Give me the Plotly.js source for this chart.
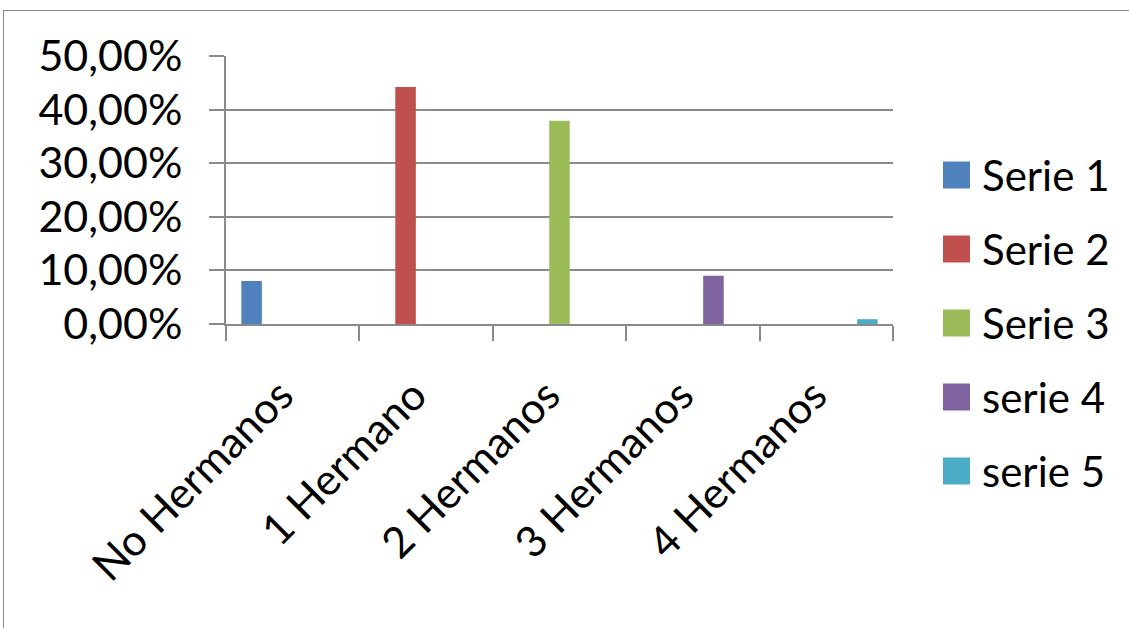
<!DOCTYPE html>
<html>
<head>
<meta charset="utf-8">
<script src="https://cdn.plot.ly/plotly-3.0.1.min.js"></script>
<style>
  html, body { margin: 0; padding: 0; background: #ffffff; overflow: hidden; }
  #frame { position: absolute; left: 3px; top: 10px; width: 1200px; height: 700px;
           border-left: 1.5px solid #8a8a8a; border-top: 1.5px solid #8a8a8a; pointer-events: none; z-index: 5; }
  #chart { position: absolute; left: 0; top: 0; width: 1129px; height: 628px; }
</style>
</head>
<body>
<div id="chart"></div>
<div id="frame"></div>
<script>
// ---- data ----
const categories = ["No Hermanos", "1 Hermano", "2 Hermanos", "3 Hermanos", "4 Hermanos"];
const seriesNames = ["Serie 1", "Serie 2", "Serie 3", "serie 4", "serie 5"];
const serie1 = [0.080, null, null, null, null];
const serie2 = [null, 0.442, null, null, null];
const serie3 = [null, null, 0.379, null, null];
const serie4 = [null, null, null, 0.090, null];
const serie5 = [null, null, null, null, 0.009];
const seriesValues = [serie1, serie2, serie3, serie4, serie5];
const seriesColors = ["#4F81BD", "#C0504D", "#9BBB59", "#8064A2", "#4BACC6"];

const FONT = "Lato, 'Liberation Sans', sans-serif";
const GRID = "#8a8a8a";

// plot area geometry (pixels)
const W = 1129, H = 628;
const M = { l: 226, r: 236, t: 56, b: 304 };
const PW = W - M.l - M.r, PH = H - M.t - M.b;
const px2x = px => (px - M.l) / PW;
const py2y = py => (H - M.b - py) / PH;

const traces = seriesValues.map((vals, i) => ({
  type: "bar",
  name: seriesNames[i],
  x: categories,
  y: vals,
  marker: { color: seriesColors[i], line: { width: 0 } },
  showlegend: false,
  hoverinfo: "name+y"
}));

// Excel-style legend: large square swatches + labels
const LEG = { swX0: 943, sw: 27, textX: 980, y0: 175, step: 74 };
const shapes = [];
const annotations = [];
seriesNames.forEach((name, i) => {
  const cy = LEG.y0 + i * LEG.step;
  shapes.push({
    type: "rect", xref: "paper", yref: "paper",
    x0: px2x(LEG.swX0), x1: px2x(LEG.swX0 + LEG.sw),
    y0: py2y(cy + LEG.sw / 2), y1: py2y(cy - LEG.sw / 2),
    fillcolor: seriesColors[i], line: { width: 0 }
  });
  annotations.push({
    xref: "paper", yref: "paper",
    x: px2x(LEG.textX), y: py2y(cy),
    xanchor: "left", yanchor: "middle",
    text: name, showarrow: false,
    font: { family: FONT, size: 42, color: "#000000" }
  });
});

const layout = {
  width: W,
  height: H,
  paper_bgcolor: "#ffffff",
  plot_bgcolor: "#ffffff",
  margin: { l: M.l, r: M.r, t: M.t, b: M.b, pad: 0 },
  separators: ",.",
  barmode: "group",
  bargap: 0.23,
  bargroupgap: 0,
  font: { family: FONT, color: "#000000", size: 42 },
  showlegend: false,
  shapes: shapes,
  annotations: annotations,
  xaxis: {
    type: "category",
    tickangle: -45,
    showline: true, linecolor: GRID, linewidth: 2,
    ticks: "outside", tickson: "boundaries", ticklen: 15, tickcolor: GRID, tickwidth: 2,
    showgrid: false, zeroline: false,
    ticklabelstandoff: 27,
    ticklabelshift: -12,
    tickfont: { family: FONT, size: 43, color: "#000000" },
    fixedrange: true
  },
  yaxis: {
    range: [0, 0.5],
    dtick: 0.1,
    tick0: 0,
    tickformat: ".2%",
    showline: true, linecolor: GRID, linewidth: 2,
    ticks: "outside", ticklen: 15, tickcolor: GRID, tickwidth: 2,
    showgrid: true, gridcolor: GRID, gridwidth: 2,
    zeroline: false,
    ticklabelstandoff: 18,
    tickfont: { family: FONT, size: 43, color: "#000000" },
    fixedrange: true
  }
};

Plotly.newPlot("chart", traces, layout, { displayModeBar: false, staticPlot: true });
</script>
</body>
</html>
